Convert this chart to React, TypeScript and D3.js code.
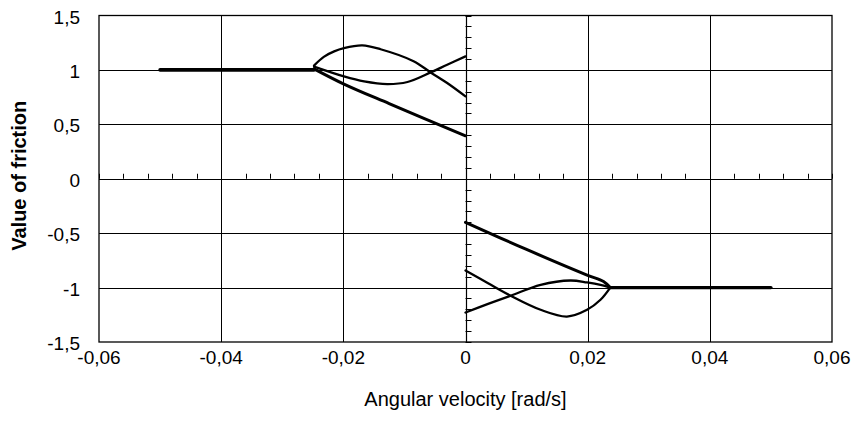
import React from "react";
import * as d3 from "d3";

const xTicks = [-0.06, -0.04, -0.02, 0, 0.02, 0.04, 0.06];
const yTicks = [-1.5, -1, -0.5, 0, 0.5, 1, 1.5];

const flatLeftX = [-0.05, -0.0248];
const flatLeftY = [1, 1];
const upperLeftX = [-0.0248, -0.0232, -0.0215, -0.0199, -0.0169, -0.0139, -0.0085, -0.0057, -0.003, 0];
const upperLeftY = [1.04, 1.12, 1.17, 1.2, 1.225, 1.19, 1.08, 0.977, 0.88, 0.757];
const midLeftX = [-0.0248, -0.0199, -0.0166, -0.0128, -0.0095, -0.0057, -0.003, 0];
const midLeftY = [1.03, 0.94, 0.894, 0.87, 0.889, 0.977, 1.048, 1.124];
const lineLeftX = [-0.0248, -0.0199, -0.0125, 0];
const lineLeftY = [1.01, 0.87, 0.69, 0.395];

const lineRightX = [0, 0.0098, 0.0199, 0.0226, 0.0237];
const lineRightY = [-0.4, -0.645, -0.885, -0.944, -1.0];
const lowRightX = [0, 0.0037, 0.0074, 0.0123, 0.0166, 0.0199, 0.0221, 0.0237];
const lowRightY = [-0.843, -0.96, -1.075, -1.204, -1.266, -1.204, -1.112, -1.0];
const highRightX = [0, 0.0037, 0.0074, 0.0123, 0.0172, 0.0199, 0.0221, 0.0237];
const highRightY = [-1.229, -1.15, -1.075, -0.975, -0.935, -0.953, -0.975, -1.0];
const flatRightX = [0.0237, 0.05];
const flatRightY = [-1, -1];

const fmt = (v: number) => String(Math.round(v * 100) / 100).replace(".", ",");

export default function App() {
  const W = 852, H = 435;
  const left = 99, right = 832, top = 15.5, bottom = 342;
  const x = d3.scaleLinear().domain([-0.06, 0.06]).range([left, right]);
  const y = d3.scaleLinear().domain([-1.5, 1.5]).range([bottom, top]);
  const mk = (xs: number[], ys: number[], curve: any) =>
    d3.line<number>().x((_, i) => x(xs[i])).y((_, i) => y(ys[i])).curve(curve)(xs.map((_, i) => i)) || "";

  const minorX = d3.range(-0.06, 0.0601, 0.004);
  const minorY = d3.range(-1.5, 1.501, 0.1);
  const font = "'Liberation Sans', Arial, sans-serif";

  return (
    <svg width={W} height={H} style={{ position: "absolute", left: 0, top: 0, background: "#fff" }}>
      <rect x={0} y={0} width={W} height={H} fill="#fff" />
      {xTicks.filter(v => v !== 0 && Math.abs(v) !== 0.06).map(v => (
        <line key={"gx" + v} x1={Math.round(x(v)) + 0.5} x2={Math.round(x(v)) + 0.5} y1={top} y2={bottom} stroke="#000" strokeWidth={1} />
      ))}
      {yTicks.filter(v => v !== 0 && Math.abs(v) !== 1.5).map(v => (
        <line key={"gy" + v} x1={left} x2={right} y1={Math.round(y(v)) + 0.5} y2={Math.round(y(v)) + 0.5} stroke="#000" strokeWidth={1} />
      ))}
      <rect x={left} y={top} width={right - left} height={bottom - top} fill="none" stroke="#000" strokeWidth={1.3} />
      <line x1={left} x2={right} y1={Math.round(y(0)) + 0.5} y2={Math.round(y(0)) + 0.5} stroke="#000" strokeWidth={1.2} />
      <line x1={Math.round(x(0)) + 0.5} x2={Math.round(x(0)) + 0.5} y1={top} y2={bottom} stroke="#000" strokeWidth={1.2} />
      {minorX.map((v, i) => (
        <line key={"mx" + i} x1={Math.round(x(v)) + 0.5} x2={Math.round(x(v)) + 0.5} y1={y(0) - 5} y2={y(0)} stroke="#000" strokeWidth={1} />
      ))}
      {minorY.map((v, i) => (
        <line key={"my" + i} x1={x(0)} x2={x(0) + 6} y1={Math.round(y(v)) + 0.5} y2={Math.round(y(v)) + 0.5} stroke="#000" strokeWidth={1} />
      ))}
      <g fill="none" stroke="#000" strokeLinejoin="round" strokeLinecap="round">
        <path d={mk(flatLeftX, flatLeftY, d3.curveLinear)} strokeWidth={3.6} />
        <path d={mk(upperLeftX, upperLeftY, d3.curveCatmullRom)} strokeWidth={2.3} />
        <path d={mk(midLeftX, midLeftY, d3.curveCatmullRom)} strokeWidth={2.3} />
        <path d={mk(lineLeftX, lineLeftY, d3.curveCatmullRom)} strokeWidth={3} />
        <path d={mk(lineRightX, lineRightY, d3.curveCatmullRom)} strokeWidth={3} />
        <path d={mk(lowRightX, lowRightY, d3.curveCatmullRom)} strokeWidth={2.3} />
        <path d={mk(highRightX, highRightY, d3.curveCatmullRom)} strokeWidth={2.3} />
        <path d={mk(flatRightX, flatRightY, d3.curveLinear)} strokeWidth={3.4} />
      </g>
      <g fontFamily={font} fontSize={19} fill="#000">
        {yTicks.map(v => (
          <text key={"ly" + v} x={80} y={y(v) + 8} textAnchor="end">{fmt(v)}</text>
        ))}
        {xTicks.map(v => (
          <text key={"lx" + v} x={x(v)} y={364} textAnchor="middle">{fmt(v)}</text>
        ))}
      </g>
      <text x={x(0)} y={406} textAnchor="middle" fontFamily={font} fontSize={20}>Angular velocity [rad/s]</text>
      <text transform={`translate(26,${y(0) - 3}) rotate(-90)`} textAnchor="middle" fontFamily={font} fontSize={20} fontWeight="bold">Value of friction</text>
    </svg>
  );
}
